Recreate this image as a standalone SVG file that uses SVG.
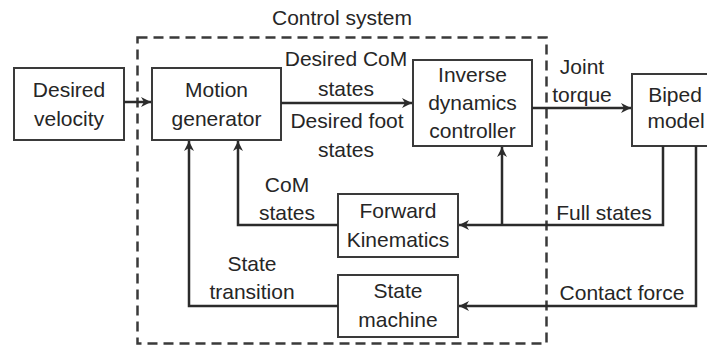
<svg xmlns="http://www.w3.org/2000/svg" width="707" height="347" viewBox="0 0 707 347">
<defs>
<marker id="arr" viewBox="0 0 10 10" refX="10" refY="5" markerWidth="10" markerHeight="10" markerUnits="userSpaceOnUse" orient="auto">
<path d="M0,0 L10,5 L0,10 L3,5 Z" fill="#2b2b2b"/>
</marker>
<style>
.box{fill:#fff;stroke:#3a3a3a;stroke-width:2}
.t{font-family:"Liberation Sans",Arial,sans-serif;font-size:21px;fill:#262626;text-anchor:middle}
.c{fill:none;stroke:#2b2b2b;stroke-width:2.5}
.dash{fill:none;stroke:#3a3a3a;stroke-width:2.5;stroke-dasharray:10 6}
</style>
</defs>
<rect width="707" height="347" fill="#fff"/>
<g id="control-system">
<rect class="dash" x="137.5" y="37.5" width="409" height="306"/>
<text class="t" x="342" y="25">Control system</text>
</g>
<g id="desired-velocity">
<rect class="box" x="14" y="68" width="110" height="72"/>
<text class="t" x="69" y="97">Desired</text>
<text class="t" x="69" y="126">velocity</text>
</g>
<g id="motion-generator">
<rect class="box" x="152" y="68" width="129" height="72"/>
<text class="t" x="216.5" y="97">Motion</text>
<text class="t" x="216.5" y="126">generator</text>
</g>
<g id="inverse-dynamics">
<rect class="box" x="413" y="60" width="119" height="86"/>
<text class="t" x="472.5" y="82">Inverse</text>
<text class="t" x="472.5" y="110">dynamics</text>
<text class="t" x="472.5" y="138">controller</text>
</g>
<g id="biped-model">
<rect class="box" x="632" y="74" width="90" height="72"/>
<text class="t" x="675" y="102">Biped</text>
<text class="t" x="676" y="128">model</text>
</g>
<g id="forward-kinematics">
<rect class="box" x="338" y="194" width="120" height="63"/>
<text class="t" x="398" y="218">Forward</text>
<text class="t" x="398" y="247">Kinematics</text>
</g>
<g id="state-machine">
<rect class="box" x="338" y="275" width="120" height="62"/>
<text class="t" x="398" y="298">State</text>
<text class="t" x="398" y="327">machine</text>
</g>
<g id="connectors">
<line class="c" x1="124" y1="102" x2="151" y2="102" marker-end="url(#arr)"/>
<line class="c" x1="281" y1="103" x2="412" y2="103" marker-end="url(#arr)"/>
<line class="c" x1="532" y1="108" x2="631" y2="108" marker-end="url(#arr)"/>
<polyline class="c" points="663,146 663,225 459,225" marker-end="url(#arr)"/>
<polyline class="c" points="502,225 502,147" marker-end="url(#arr)"/>
<polyline class="c" points="696,146 696,306 459,306" marker-end="url(#arr)"/>
<polyline class="c" points="338,225 238,225 238,141" marker-end="url(#arr)"/>
<polyline class="c" points="338,306 189,306 189,141" marker-end="url(#arr)"/>
<text class="t" x="346" y="66">Desired CoM</text>
<text class="t" x="346" y="96">states</text>
<text class="t" x="347" y="128">Desired foot</text>
<text class="t" x="346" y="157">states</text>
<text class="t" x="582" y="74">Joint</text>
<text class="t" x="582" y="102">torque</text>
<text class="t" x="287" y="192">CoM</text>
<text class="t" x="287" y="220">states</text>
<text class="t" x="252" y="271">State</text>
<text class="t" x="252" y="299">transition</text>
<text class="t" x="604" y="220">Full states</text>
<text class="t" x="622" y="300">Contact force</text>
</g>
</svg>
